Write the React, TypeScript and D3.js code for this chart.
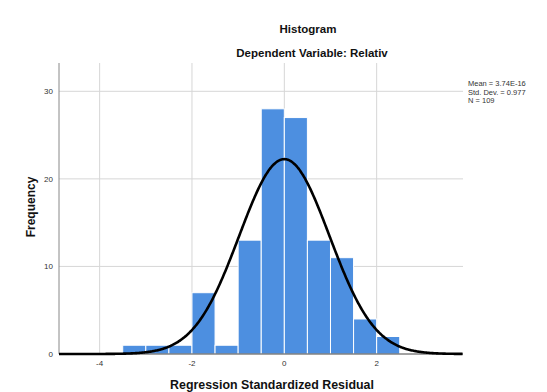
import React from "react";
import * as d3 from "d3";

// Histogram bins (lower edge, width 0.5) and frequencies
const binStarts = [-3.5, -3.0, -2.5, -2.0, -1.5, -1.0, -0.5, 0.0, 0.5, 1.0, 1.5, 2.0];
const binCounts = [1, 1, 1, 7, 1, 13, 28, 27, 13, 11, 4, 2];
const binWidth = 0.5;

const xTicks = [-4, -2, 0, 2];
const yTicks = [0, 10, 20, 30];

const mean = 3.74e-16;
const stdDev = 0.977;
const n = 109;
const statsLines = ["Mean = 3.74E-16", "Std. Dev. = 0.977", "N = 109"];

const W = 547;
const H = 392;
const plot = { left: 59, right: 463, top: 63, bottom: 354 };

export default function App() {
  const x = d3.scaleLinear().domain([-4.88, 3.87]).range([plot.left, plot.right]);
  const y = d3.scaleLinear().domain([0, 30]).range([plot.bottom, plot.bottom - 262.7]);

  const normal = (v: number) =>
    (n * binWidth) / (stdDev * Math.sqrt(2 * Math.PI)) *
    Math.exp(-0.5 * ((v - mean) / stdDev) ** 2);
  const curvePts = d3.range(x.domain()[0], x.domain()[1] + 0.001, 0.02);
  const line = d3
    .line<number>()
    .x((v) => x(v))
    .y((v) => y(normal(v)))
    .curve(d3.curveBasis);

  const font = "'Liberation Sans', Arial, sans-serif";

  return (
    <svg
      width={W}
      height={H}
      style={{ position: "absolute", left: 0, top: 0, background: "#fff" }}
      fontFamily={font}
    >
      <rect x={0} y={0} width={W} height={H} fill="#fff" />
      <text x={308} y={33} textAnchor="middle" fontSize={11.5} fontWeight="bold" fill="#111">
        Histogram
      </text>
      <text x={312} y={57} textAnchor="middle" fontSize={11.5} fontWeight="bold" fill="#111">
        Dependent Variable: Relativ
      </text>

      {/* grid */}
      {xTicks.map((t) => (
        <line key={"gx" + t} x1={x(t)} x2={x(t)} y1={plot.top} y2={plot.bottom} stroke="#d6d6d6" strokeWidth={1} />
      ))}
      {yTicks.slice(1).map((t) => (
        <line key={"gy" + t} x1={plot.left} x2={plot.right} y1={y(t)} y2={y(t)} stroke="#d6d6d6" strokeWidth={1} />
      ))}

      {/* bars */}
      {binStarts.map((s, i) => (
        <rect
          key={"b" + i}
          x={x(s)}
          y={y(binCounts[i])}
          width={x(s + binWidth) - x(s)}
          height={y(0) - y(binCounts[i])}
          fill="#4d8fe0"
          stroke="#fff"
          strokeWidth={1}
        />
      ))}

      {/* axes */}
      <line x1={plot.left} x2={plot.left} y1={plot.top} y2={plot.bottom} stroke="#888" strokeWidth={1} />
      <line x1={plot.left} x2={plot.right} y1={plot.bottom} y2={plot.bottom} stroke="#444" strokeWidth={1} />

      {/* normal curve */}
      <path d={line(curvePts) || ""} fill="none" stroke="#000" strokeWidth={2.6} />

      {yTicks.map((t) => (
        <text key={"ty" + t} x={53} y={y(t) + 3} textAnchor="end" fontSize={8} fill="#333">
          {t}
        </text>
      ))}
      {xTicks.map((t) => (
        <text key={"tx" + t} x={x(t)} y={366} textAnchor="middle" fontSize={8} fill="#333">
          {t}
        </text>
      ))}

      {statsLines.map((s, i) => (
        <text key={"s" + i} x={468} y={86 + i * 8.6} fontSize={7.5} fill="#333">
          {s}
        </text>
      ))}

      <text x={272} y={389} textAnchor="middle" fontSize={12.4} fontWeight="bold" fill="#111">
        Regression Standardized Residual
      </text>
      <text
        transform={`translate(35,207) rotate(-90)`}
        textAnchor="middle"
        fontSize={12}
        fontWeight="bold"
        fill="#111"
      >
        Frequency
      </text>
    </svg>
  );
}
